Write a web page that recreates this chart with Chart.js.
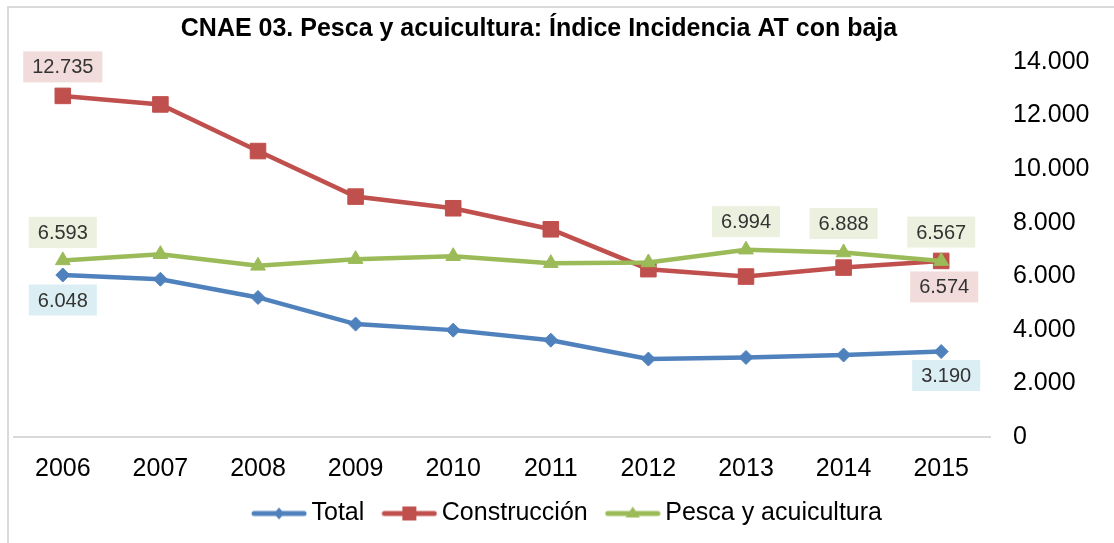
<!DOCTYPE html>
<html>
<head>
<meta charset="utf-8">
<script src="https://cdn.jsdelivr.net/npm/chart.js@4.4.0/dist/chart.umd.min.js"></script>
<style>
  html, body { margin: 0; padding: 0; background: #fff; overflow: hidden; }
  #marco { position: absolute; left: 7px; top: 6px; width: 1200px; height: 600px;
           border-left: 2px solid #d9d9d9; border-top: 2px solid #d9d9d9; }
  #contenedor { position: absolute; left: 0; top: 0; width: 1114px; height: 543px; }
</style>
</head>
<body>
<div id="marco"></div>
<div id="contenedor"><canvas id="miGrafico" width="1114" height="543"></canvas></div>
<script>
// Datos
const anios = ['2006', '2007', '2008', '2009', '2010', '2011', '2012', '2013', '2014', '2015'];
const total = [6048, 5890, 5210, 4215, 3990, 3615, 2910, 2970, 3060, 3190];
const construccion = [12735, 12416, 10675, 8975, 8540, 7755, 6265, 5990, 6325, 6574];
const pesca = [6593, 6825, 6390, 6640, 6750, 6490, 6515, 6994, 6888, 6567];
const ticksY = [0, 2000, 4000, 6000, 8000, 10000, 12000, 14000];
const nombres = ['Total', 'Construcción', 'Pesca y acuicultura'];
const titulo = 'CNAE 03. Pesca y acuicultura: Índice Incidencia AT con baja';

const colores = ['#4f81bd', '#c0504d', '#9bbb59'];
const fondos = ['#dbeef4', '#f2dcdb', '#ebf1de'];
const fuente = '"Liberation Sans", Arial, sans-serif';

const formato = v => String(v).replace(/\B(?=(\d{3})+(?!\d))/g, '.');

// iconos de leyenda: línea con marcador (con margen transparente a la izquierda)
function crearIcono(color, forma) {
    const c = document.createElement('canvas');
    c.width = 69; c.height = 18;
    const g = c.getContext('2d');
    const x0 = 13, cx = x0 + 28;
    g.strokeStyle = color; g.fillStyle = color;
    g.lineWidth = 5; g.lineCap = 'round';
    g.beginPath(); g.moveTo(x0 + 3, 9); g.lineTo(x0 + 53, 9); g.stroke();
    g.beginPath();
    if (forma === 'rombo') {
        g.moveTo(cx, 3); g.lineTo(cx + 5, 9); g.lineTo(cx, 15); g.lineTo(cx - 5, 9);
    } else if (forma === 'cuadrado') {
        g.rect(cx - 7, 2, 14, 14);
    } else {
        g.moveTo(cx, 2); g.lineTo(cx + 7, 13); g.lineTo(cx - 7, 13);
    }
    g.closePath(); g.fill();
    return c;
}
const iconos = [crearIcono(colores[0], 'rombo'), crearIcono(colores[1], 'cuadrado'), crearIcono(colores[2], 'triangulo')];

// etiquetas de valor con fondo
const pluginEtiquetas = {
    id: 'etiquetas',
    afterDatasetsDraw(chart) {
        const ctx = chart.ctx;
        ctx.save();
        ctx.font = '20px ' + fuente;
        ctx.textAlign = 'center';
        ctx.textBaseline = 'middle';
        chart.data.datasets.forEach((ds, i) => {
            const meta = chart.getDatasetMeta(i);
            (ds.etiquetas || []).forEach(([idx, dy, dx]) => {
                const p = meta.data[idx];
                const texto = formato(ds.data[idx]);
                const w = ctx.measureText(texto).width + 18;
                const h = 31;
                const cx = p.x + (dx || 0), cy = p.y + dy;
                ctx.fillStyle = fondos[i];
                ctx.fillRect(cx - w / 2, cy - h / 2, w, h);
                ctx.fillStyle = '#333';
                ctx.fillText(texto, cx, cy + 1);
            });
        });
        ctx.restore();
    }
};

const pluginTitulo = {
    id: 'tituloPropio',
    afterDraw(chart) {
        const ctx = chart.ctx;
        ctx.save();
        ctx.font = 'bold 25px ' + fuente;
        ctx.fillStyle = '#000';
        ctx.textAlign = 'center';
        ctx.textBaseline = 'middle';
        ctx.fillText(titulo, 539, 29);
        ctx.restore();
    }
};

const serie = (i, datos, forma, radio, orden, etiquetas) => ({
    label: nombres[i],
    data: datos,
    borderColor: colores[i],
    backgroundColor: colores[i],
    borderWidth: 4.5,
    pointStyle: forma,
    pointRadius: radio,
    pointHoverRadius: radio,
    pointBorderWidth: 1,
    pointBackgroundColor: colores[i],
    pointBorderColor: colores[i],
    tension: 0,
    order: orden,
    etiquetas: etiquetas
});

const ctx = document.getElementById('miGrafico').getContext('2d');
const miGrafico = new Chart(ctx, {
    type: 'line',
    data: {
        labels: anios,
        datasets: [
            serie(0, total, 'rectRot', 7, 3, [[0, 25], [9, 24, 5]]),
            serie(1, construccion, 'rect', 11, 2, [[0, -29], [9, 26, 3]]),
            serie(2, pesca, 'triangle', 8.5, 1, [[0, -28], [7, -28], [8, -29], [9, -29]])
        ]
    },
    plugins: [pluginEtiquetas, pluginTitulo],
    options: {
        responsive: false,
        animation: false,
        devicePixelRatio: 1,
        layout: { padding: { left: 14, right: 0, top: 62, bottom: 7 } },
        plugins: {
            title: { display: false },
            tooltip: { enabled: false },
            legend: {
                position: 'bottom',
                labels: {
                    usePointStyle: true,
                    pointStyleWidth: 53,
                    padding: 12,
                    color: '#000',
                    font: { size: 25, family: fuente },
                    sort: (a, b) => a.datasetIndex - b.datasetIndex,
                    generateLabels(chart) {
                        const items = Chart.defaults.plugins.legend.labels.generateLabels(chart);
                        items.forEach(it => { it.pointStyle = iconos[it.datasetIndex]; });
                        return items;
                    }
                }
            }
        },
        scales: {
            x: {
                offset: true,
                grid: { display: false },
                border: { display: true, color: '#d9d9d9', width: 2 },
                ticks: { color: '#000', padding: 9, font: { size: 25, family: fuente } },
                afterFit: s => { s.height = 52; }
            },
            y: {
                position: 'right',
                min: 0,
                max: 14000,
                grid: { display: false, drawTicks: false },
                border: { display: false },
                afterBuildTicks: s => { s.ticks = ticksY.map(v => ({ value: v })); },
                ticks: {
                    color: '#000',
                    padding: 23,
                    font: { size: 25, family: fuente },
                    callback: v => formato(v)
                },
                afterFit: s => { s.width = 124; }
            }
        }
    }
});
</script>
</body>
</html>
